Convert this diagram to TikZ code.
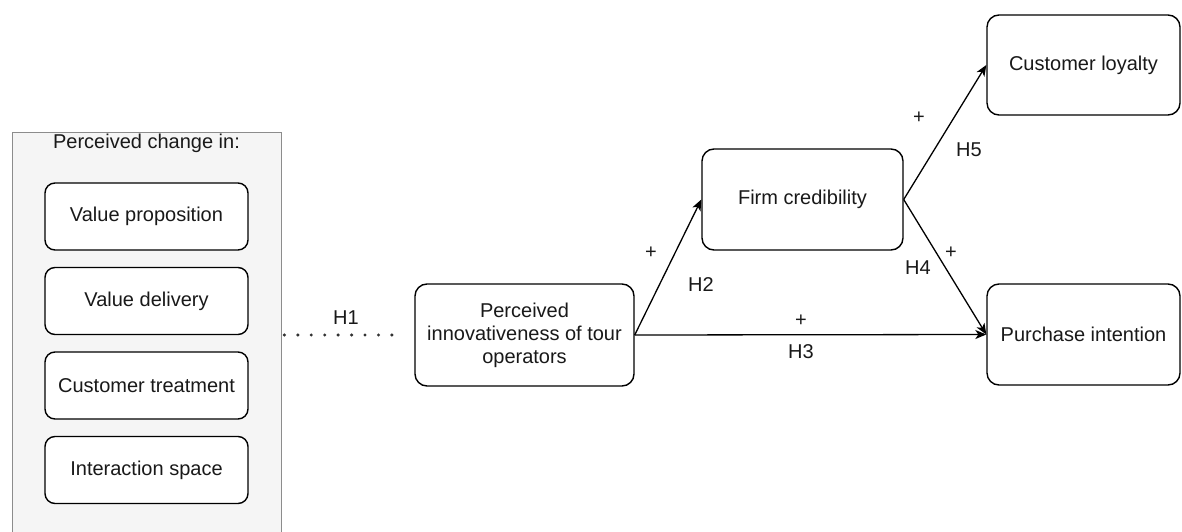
\documentclass[tikz,border=0pt]{standalone}
\usepackage{fontspec}
\setmainfont{Liberation Sans}
\usetikzlibrary{calc,arrows.meta}

\begin{document}
\begin{tikzpicture}[x=1pt,y=-1pt,
  every node/.style={font=\fontsize{20}{23}\selectfont, text=black!90},
  item/.style={draw, line width=1.4pt, rounded corners=10pt, fill=white,
    minimum width=203pt, minimum height=67pt, inner sep=0pt},
  concept/.style={draw, line width=1.4pt, rounded corners=12pt, fill=white,
    align=center, inner sep=0pt},
  link/.style={line width=1.3pt, -{Stealth[length=11pt,width=9pt,inset=3pt]}},
  ]
\useasboundingbox (0,0) rectangle (1182,532);
\clip (0,0) rectangle (1182,532);
\fill[white] (0,0) rectangle (1182,532);

% dimensions of change
\node[draw=black!45, fill=black!4, line width=1.4pt, minimum width=269pt,
  minimum height=420pt, anchor=north west, inner sep=0pt] (group) at (12,132) {};
\node (grouptitle) at (146.5,143) {Perceived change in:};
\node[item] (valprop) at (146.5,216.5) {Value proposition};
\node[item] (valdel) at (146.5,301) {Value delivery};
\node[item] (custtreat) at (146.5,385.5) {Customer treatment};
\node[item] (interspace) at (146.5,470) {Interaction space};

% constructs
\node[concept, minimum width=219pt, minimum height=102pt] (innov) at (524.5,335)
  {Perceived\\innovativeness of tour\\operators};
\node[concept, minimum width=201pt, minimum height=101pt] (firm) at (802.5,199.5)
  {Firm credibility};
\node[concept, minimum width=193pt, minimum height=100pt] (loyal) at (1083.5,65)
  {Customer loyalty};
\node[concept, minimum width=193pt, minimum height=101pt] (purch) at (1083.5,334.5)
  {Purchase intention};

% hypotheses
\draw[line width=3.4pt, black!80, dash pattern=on 0pt off 13.44pt, line cap=round,
  shorten <=2pt, shorten >=11pt] (group.east |- innov.west) -- (innov.west);
\draw[link] (innov.east) -- (firm.west);
\draw[link] (innov.east) -- (purch.west);
\draw[link] (firm.east) -- (loyal.west);
\draw[link] (firm.east) -- (purch.west);

\node (h1) at (346,318) {H1};
\node (plus2) at (651,253) {+};
\node (h2) at (701,285) {H2};
\node (plus3) at (801,321) {+};
\node (h3) at (801,352) {H3};
\node (plus4) at (951,253) {+};
\node (h4) at (918,268) {H4};
\node (plus5) at (919,118) {+};
\node (h5) at (969,150) {H5};
\end{tikzpicture}
\end{document}
